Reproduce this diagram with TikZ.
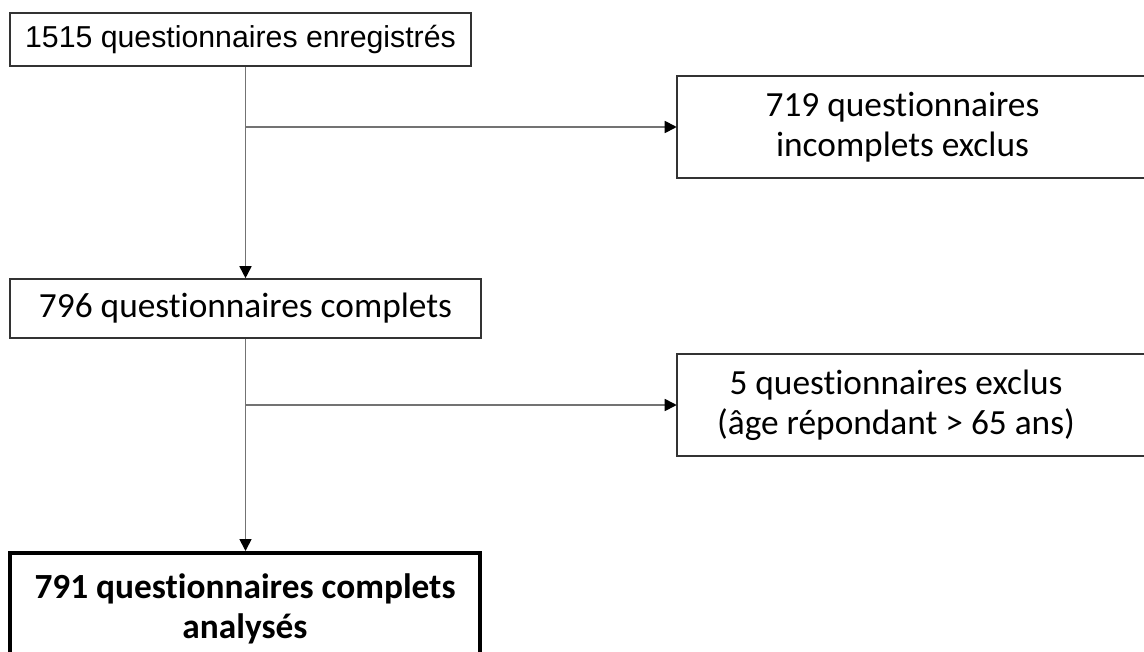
\documentclass[tikz,border=0pt]{standalone}
\usepackage{fontspec}
\setmainfont{Carlito}[Ligatures=NoCommon]
\newfontfamily\arialfont{Liberation Sans}
\usetikzlibrary{arrows.meta}

\tikzset{
    txt/.style={inner sep=0pt, align=center, font=\fontsize{26.5}{30}\selectfont},
    box/.style={txt, draw=black!80, line width=1.2pt},
    boxline/.style={draw=black!80, line width=1.2pt},
    flow/.style={draw=black!55, line width=1.3pt, -{Triangle[length=9pt,width=9pt,color=black]}},
}

\begin{document}
\begin{tikzpicture}[x=0.75pt,y=-0.75pt]
        \clip (0,0) rectangle (1144,652);
        \fill[white] (0,0) rectangle (1144,652);

        \node[box, font=\arialfont\fontsize{22.7}{27}\selectfont, minimum width=345.75pt, minimum height=39.75pt] (rec) at (240.5,39.5) {1515 questionnaires enregistrés};
        \node[box, minimum width=353.25pt, minimum height=44.25pt] (comp) at (245.5,308.5) {796 questionnaires complets};
        \node[box, draw=black, line width=3pt, font=\bfseries\fontsize{26.5}{30}\selectfont, minimum width=352.5pt, minimum height=84pt] (ana) at (245,609) {791 questionnaires complets\\analysés};

        % excluded boxes, cut at the right border
        \node[txt, minimum width=338.25pt, minimum height=75.75pt] (inc) at (902.5,127) {719 questionnaires\\incomplets exclus};
        \node[txt, minimum width=328.5pt, minimum height=76.5pt] (age) at (896,405) {5 questionnaires exclus\\(âge répondant > 65 ans)};
        \draw[boxline] ([xshift=40pt]inc.north east) -| (inc.south west) -- ([xshift=40pt]inc.south east);
        \draw[boxline] ([xshift=40pt]age.north east) -| (age.south west) -- ([xshift=40pt]age.south east);

        \draw[flow] (rec.south -| comp.north) -- (comp.north);
        \draw[flow] (comp.north |- inc.west) -- (inc.west);
        \draw[flow] (comp.south) -- (comp.south |- ana.north);
        \draw[flow] (comp.south |- age.west) -- (age.west);
    \end{tikzpicture}
\end{document}
